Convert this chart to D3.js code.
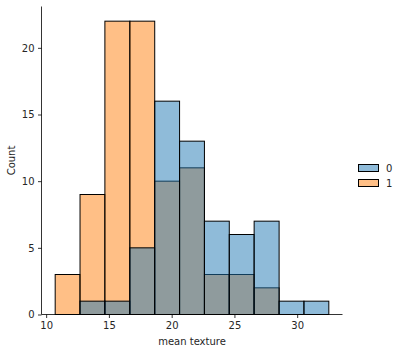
<!DOCTYPE html>
<html><head><meta charset="utf-8">
<script src="https://cdn.jsdelivr.net/npm/d3@7"></script>
<style>body{margin:0;background:#fff}svg{display:block}text{font-family:"DejaVu Sans",sans-serif;fill:#262626}</style>
</head><body><svg id="c" width="400" height="352"></svg>
<script>
const binEdges = [10.72,12.70,14.68,16.67,18.65,20.63,22.61,24.59,26.57,28.56,30.54,32.52];
const counts0 = [0,1,1,5,16,13,7,6,7,1,1];
const counts1 = [3,9,22,22,10,11,3,3,2,0,0];
const xTicks = [10,15,20,25,30];
const yTicks = [0,5,10,15,20];
const legendLabels = ["0","1"];
const colors = {"0":"#1f77b4","1":"#ff7f0e"};

const svg = d3.select("#c");
const L=41.5, R=342.5, T=6.5, B=314.5;
const x = d3.scale = d3.scaleLinear().domain([9.63,33.61]).range([L,R]);
const y = d3.scaleLinear().domain([0,23.1]).range([B,T]);

function drawSeries(counts, col){
  const d = counts.map((c,i)=>({x0:binEdges[i],x1:binEdges[i+1],c})).filter(d=>d.c>0);
  svg.append("g").selectAll("rect").data(d).join("rect")
    .attr("x",d=>x(d.x0)).attr("width",d=>x(d.x1)-x(d.x0))
    .attr("y",d=>y(d.c)).attr("height",d=>y(0)-y(d.c))
    .attr("fill",col).attr("fill-opacity",0.5)
    .attr("stroke","#000").attr("stroke-width",1);
}
drawSeries(counts1, colors["1"]);
drawSeries(counts0, colors["0"]);

const xa = svg.append("g").attr("transform",`translate(0,${B})`)
  .call(d3.axisBottom(x).tickValues(xTicks).tickSize(3.5).tickPadding(3.5).tickFormat(d3.format("d")));
xa.select(".domain").attr("d",`M${L},0H${R}`);
const ya = svg.append("g").attr("transform",`translate(${L},0)`)
  .call(d3.axisLeft(y).tickValues(yTicks).tickSize(3.5).tickPadding(3.5).tickFormat(d3.format("d")));
ya.select(".domain").attr("d",`M0,${B}V${T}`);
svg.selectAll(".domain").attr("stroke","#000").attr("stroke-width",0.8);
svg.selectAll(".tick line").attr("stroke","#000").attr("stroke-width",0.8);
svg.selectAll(".tick text").attr("font-size",10).attr("font-family","DejaVu Sans").attr("fill","#262626");

svg.append("text").attr("x",(L+R)/2).attr("y",345).attr("text-anchor","middle").attr("font-size",10).text("mean texture");
svg.append("text").attr("transform",`translate(15,${(T+B)/2}) rotate(-90)`).attr("text-anchor","middle").attr("font-size",10).text("Count");

const lg = svg.append("g");
legendLabels.forEach((lab,i)=>{
  const yy = 164 + i*15;
  lg.append("rect").attr("x",358.5).attr("y",yy+0.5).attr("width",20).attr("height",7)
    .attr("fill",colors[lab]).attr("fill-opacity",0.5).attr("stroke","#000").attr("stroke-width",1);
  lg.append("text").attr("x",386).attr("y",yy+7.5).attr("font-size",10).text(lab);
});
</script></body></html>
